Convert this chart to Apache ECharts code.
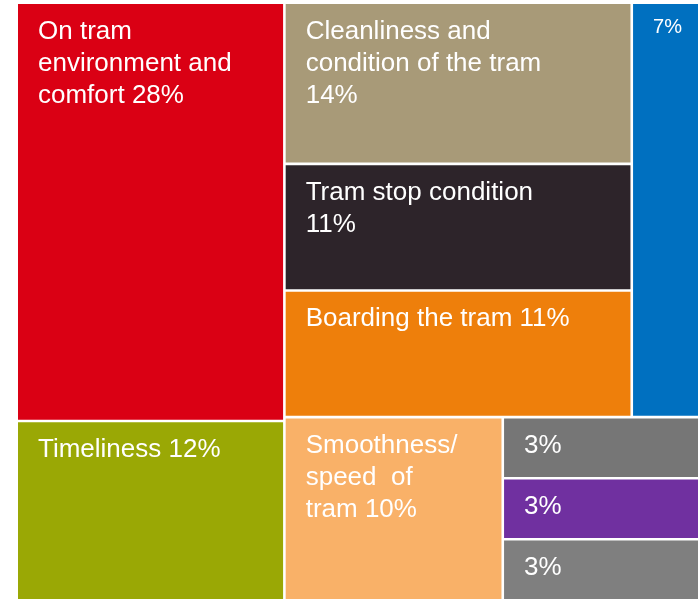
<!DOCTYPE html>
<html>
<head>
<meta charset="utf-8">
<script src="https://cdn.jsdelivr.net/npm/echarts@6/dist/echarts.min.js"></script>
<style>
  html, body { margin: 0; padding: 0; background: #ffffff; }
  #chart { width: 698px; height: 599px; }
</style>
</head>
<body>
<div id="chart"></div>
<script>
// Reasons given for tram satisfaction, share of responses (%)
const categories = [
  'On tram\nenvironment and\ncomfort',
  'Cleanliness and\ncondition of the tram\n',
  'Tram stop condition\n',
  'Boarding the tram',
  '',
  'Timeliness',
  'Smoothness/\nspeed  of\ntram',
  '',
  '',
  ''
];
const values = [28, 14, 11, 11, 7, 12, 10, 3, 3, 3];
const colors = [
  '#DA0014', '#A89A78', '#2D242A', '#EE7F0B', '#0070C0',
  '#9AA805', '#F9B168', '#767676', '#7030A0', '#7F7F7F'
];

// One cell: white 1.3px edge on every side gives the thin white rules between cells
function leaf(i) {
  const name = categories[i];
  const sep = (!name || name.endsWith('\n')) ? '' : ' ';
  const item = {
    name: name,
    value: values[i],
    itemStyle: { color: colors[i], borderWidth: 1.3, borderColor: '#ffffff' },
    label: { formatter: name + sep + values[i] + '%' }
  };
  if (i === 4) {
    item.label.fontSize = 20;
    item.label.lineHeight = 24;
  }
  return item;
}

// Invisible grouping nodes steer the squarified layout into rows and columns
function group(children) {
  return { name: '', children: children };
}

const data = [
  leaf(0),
  leaf(5),
  group([
    group([
      group([
        group([leaf(1), leaf(2)]),
        leaf(3)
      ]),
      leaf(4)
    ]),
    group([
      leaf(6),
      group([
        leaf(7),
        group([leaf(8), leaf(9)])
      ])
    ])
  ])
];

const chart = echarts.init(document.getElementById('chart'), null, { renderer: 'canvas' });
chart.setOption({
  animation: false,
  series: [{
    type: 'treemap',
    left: 16.7,
    top: 2.7,
    width: 682.6,
    height: 597.6,
    squareRatio: 1.7,
    sort: false,
    roam: false,
    nodeClick: false,
    breadcrumb: { show: false },
    itemStyle: { borderWidth: 0, gapWidth: 0, borderColor: '#ffffff' },
    upperLabel: { show: false },
    label: {
      show: true,
      position: 'insideTopLeft',
      distance: 0,
      padding: [11.5, 0, 0, 20],
      color: '#ffffff',
      fontFamily: "'Liberation Sans', Arial, sans-serif",
      fontSize: 26,
      lineHeight: 32
    },
    data: data
  }]
});
</script>
</body>
</html>
